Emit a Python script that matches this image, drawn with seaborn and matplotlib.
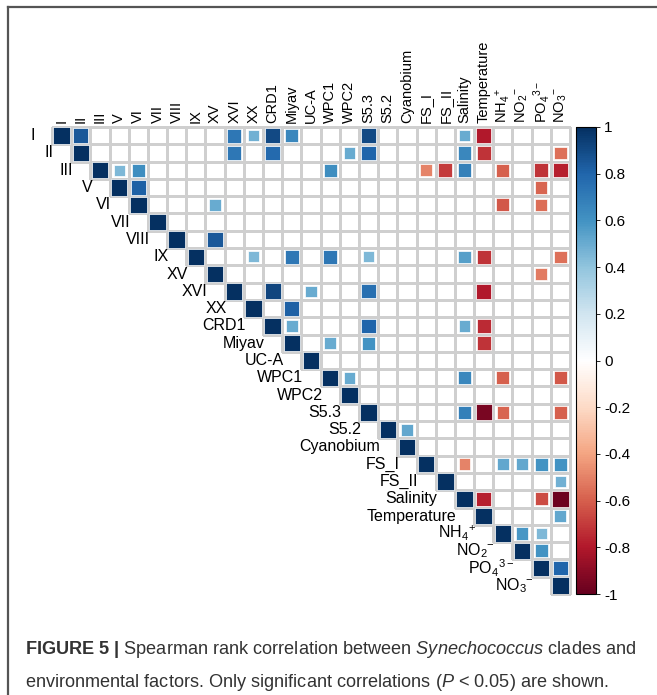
import numpy as np
import pandas as pd
import matplotlib
matplotlib.use("Agg")
import matplotlib.pyplot as plt
import seaborn as sns
from matplotlib.colors import LinearSegmentedColormap, ListedColormap, Normalize, to_rgba
from matplotlib.cm import ScalarMappable
from matplotlib.lines import Line2D

# Variables (clades + environmental factors), in plot order
labels = ["I", "II", "III", "V", "VI", "VII", "VIII", "IX", "XV", "XVI", "XX",
          "CRD1", "Miyav", "UC-A", "WPC1", "WPC2", "S5.3", "S5.2", "Cyanobium",
          "FS_I", "FS_II", "Salinity", "Temperature", "NH4", "NO2", "PO4", "NO3"]
display = {"NH4": r"NH$_4{}^{+}$", "NO2": r"NO$_2{}^{-}$",
           "PO4": r"PO$_4{}^{3-}$", "NO3": r"NO$_3{}^{-}$"}

# Significant Spearman correlations (upper triangle)
row_var = ["I", "I", "I", "I", "I", "I", "I", "I",
           "II", "II", "II", "II", "II", "II", "II",
           "III", "III", "III", "III", "III", "III", "III", "III", "III",
           "V", "V",
           "VI", "VI", "VI",
           "VIII",
           "IX", "IX", "IX", "IX", "IX", "IX", "IX",
           "XV",
           "XVI", "XVI", "XVI", "XVI",
           "XX",
           "CRD1", "CRD1", "CRD1", "CRD1",
           "Miyav", "Miyav", "Miyav",
           "WPC1", "WPC1", "WPC1", "WPC1",
           "S5.3", "S5.3", "S5.3", "S5.3",
           "S5.2",
           "FS_I", "FS_I", "FS_I", "FS_I", "FS_I",
           "FS_II",
           "Salinity", "Salinity", "Salinity",
           "Temperature",
           "NH4", "NH4",
           "NO2",
           "PO4"]
col_var = ["II", "XVI", "XX", "CRD1", "Miyav", "S5.3", "Salinity", "Temperature",
           "XVI", "CRD1", "WPC2", "S5.3", "Salinity", "Temperature", "NO3",
           "V", "VI", "WPC1", "FS_I", "FS_II", "Salinity", "NH4", "PO4", "NO3",
           "VI", "PO4",
           "XV", "NH4", "PO4",
           "XV",
           "XX", "Miyav", "WPC1", "S5.3", "Salinity", "Temperature", "NO3",
           "PO4",
           "CRD1", "UC-A", "S5.3", "Temperature",
           "Miyav",
           "Miyav", "S5.3", "Salinity", "Temperature",
           "WPC1", "S5.3", "Temperature",
           "WPC2", "Salinity", "NH4", "NO3",
           "Salinity", "Temperature", "NH4", "NO3",
           "Cyanobium",
           "Salinity", "NH4", "NO2", "PO4", "NO3",
           "NO3",
           "Temperature", "PO4", "NO3",
           "NO3",
           "NO2", "PO4",
           "PO4",
           "NO3"]
rho = [0.85, 0.72, 0.48, 0.90, 0.65, 0.90, 0.50, -0.80,
       0.72, 0.78, 0.50, 0.80, 0.65, -0.72, -0.55,
       0.45, 0.62, 0.62, -0.50, -0.70, 0.68, -0.60, -0.72, -0.78,
       0.82, -0.58,
       0.50, -0.62, -0.56,
       0.85,
       0.45, 0.72, 0.72, 0.45, 0.55, -0.72, -0.55,
       -0.52,
       0.92, 0.50, 0.75, -0.80,
       0.82,
       0.50, 0.80, 0.50, -0.75,
       0.50, 0.60, -0.72,
       0.50, 0.65, -0.60, -0.62,
       0.68, -0.95, -0.58, -0.60,
       0.52,
       -0.50, 0.52, 0.52, 0.60, 0.60,
       0.48,
       -0.78, -0.65, -0.98,
       0.52,
       0.58, 0.45,
       0.60,
       0.80]

n = len(labels)
idx = {v: i for i, v in enumerate(labels)}

# corrplot-like RdBu palette
cmap = LinearSegmentedColormap.from_list(
    "corr", ["#67001F", "#B2182B", "#D6604D", "#F4A582", "#FDDBC7", "#FFFFFF",
             "#D1E5F0", "#92C5DE", "#4393C3", "#2166AC", "#053061"])

df = pd.DataFrame({"row": labels + row_var,
                   "col": labels + col_var,
                   "rho": [1.0] * n + rho})
df["x"] = df["col"].map(idx) + 0.5
df["y"] = df["row"].map(idx) + 0.5
df["mag"] = df["rho"].abs()

plt.rcParams["font.family"] = ["Liberation Sans", "DejaVu Sans"]
plt.rcParams["mathtext.fontset"] = "custom"
plt.rcParams["mathtext.rm"] = "Liberation Sans"
plt.rcParams["mathtext.it"] = "Liberation Sans:italic"
plt.rcParams["mathtext.bf"] = "Liberation Sans:bold"

W, H = 657, 695
fig = plt.figure(figsize=(W / 100, H / 100), dpi=100)
ax = fig.add_axes([52 / W, 1 - 594 / H, 518 / W, 467 / H])

# gray grid over the upper triangle only
grid = np.zeros((n, n))
lower = np.tril(np.ones((n, n), dtype=bool), k=-1)
sns.heatmap(grid, mask=lower, cmap=ListedColormap(["white"]), cbar=False,
            linewidths=0.8, linecolor="#cfcfcf", xticklabels=False,
            yticklabels=False, ax=ax)
mesh = ax.collections[0]
edge = np.array([to_rgba("#cfcfcf")] * (n * n))
edge[lower.ravel()] = (1, 1, 1, 0)
mesh.set_edgecolor(edge)
mesh.set_clip_on(False)

# squares, area proportional to |rho|
sns.scatterplot(data=df, x="x", y="y", hue="rho", size="mag", palette=cmap,
                hue_norm=(-1, 1), sizes=(0, 140), size_norm=(0, 1), marker="s",
                edgecolor="white", linewidth=0.5, legend=False, ax=ax, zorder=3)
ax.set_xlim(0, n)
ax.set_ylim(n, 0)
ax.set_xlabel("")
ax.set_ylabel("")
ax.set_xticks([])
ax.set_yticks([])

for i, lab in enumerate(labels):
    txt = display.get(lab, lab)
    ax.text(i + 0.5, -0.25, txt, rotation=90, ha="center", va="bottom",
            fontsize=10.5, color="black", clip_on=False)
    ax.text(i - 0.9, i + 0.5, txt, ha="right", va="center",
            fontsize=11.5, color="black", clip_on=False)

# colour bar
cax = fig.add_axes([576 / W, 1 - 594 / H, 20 / W, 467 / H])
ticks = np.round(np.arange(-1, 1.01, 0.2), 1)
cb = fig.colorbar(ScalarMappable(Normalize(-1, 1), cmap), cax=cax, ticks=ticks)
cb.ax.set_yticklabels(["%g" % t if t != 0 else "0" for t in ticks])
cb.ax.tick_params(labelsize=11, length=3, width=0.6, pad=3)
cb.outline.set_linewidth(0.8)

# journal frame
fig.add_artist(Line2D([8 / W, 1], [1 - 7 / H, 1 - 7 / H], transform=fig.transFigure,
                      color="#555555", lw=1.6))
fig.add_artist(Line2D([8 / W, 8 / W], [0, 1 - 7 / H], transform=fig.transFigure,
                      color="#555555", lw=1.6))

# caption
line1 = (r"$\mathbf{FIGURE\ 5\ |}$ Spearman rank correlation between "
         r"$\mathit{Synechococcus}$ clades and")
line2 = (r"environmental factors. Only significant correlations ($\mathit{P}$"
         r" < 0.05) are shown.")
t1 = fig.text(25 / W, 1 - 654 / H, line1, fontsize=12, color="#333333",
              va="baseline", ha="left")
t2 = fig.text(25 / W, 1 - 687 / H, line2, fontsize=12, color="#333333",
              va="baseline", ha="left")
renderer = fig.canvas.get_renderer()
w1 = t1.get_window_extent(renderer).width
fs = 12 * 612 / w1
t1.set_fontsize(fs)
t2.set_fontsize(fs)

fig.savefig("out.png", dpi=100)
